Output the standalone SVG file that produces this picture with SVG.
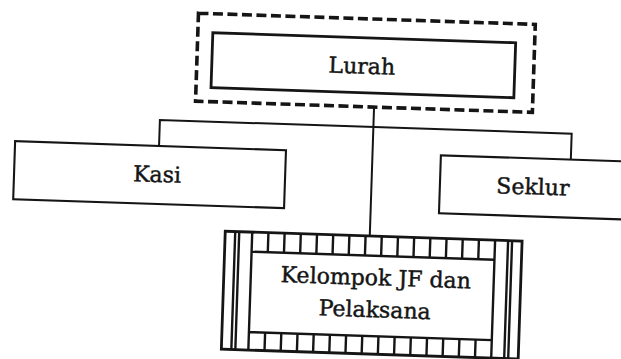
<svg xmlns="http://www.w3.org/2000/svg" width="621" height="359" viewBox="0 0 621 359">
<style>
.t{font-family:"DejaVu Serif","Liberation Serif",serif;font-size:22px;fill:#151515;stroke:#151515;stroke-width:0.45;text-anchor:middle}
.box{fill:#fff;stroke:#151515;stroke-width:2.1}
.thick{fill:#fff;stroke:#151515;stroke-width:2.8}
.dash{fill:none;stroke:#151515;stroke-width:3.6;stroke-dasharray:10 4.5}
.ln{fill:none;stroke:#151515;stroke-width:2}
.cell{fill:none;stroke:#151515;stroke-width:2.4}
</style>
<rect width="621" height="359" fill="#fff"/>
<g transform="rotate(1.9 310 180)">
<g id="connectors">
<line class="ln" x1="371.6" y1="105" x2="371.6" y2="234"/>
<polyline class="ln" points="158,151 158,125 570,125 570,151"/>
</g>
<g id="lurah">
<rect class="dash" x="193" y="17" width="337" height="88"/>
<rect class="thick" x="208" y="36" width="303" height="55"/>
<text class="t" x="358" y="72">Lurah</text>
</g>
<g id="kasi">
<rect class="box" x="14" y="151" width="271" height="58"/>
<text class="t" x="157" y="187">Kasi</text>
</g>
<g id="seklur">
<rect class="box" x="440" y="151" width="186" height="58"/>
<text class="t" x="533" y="187">Seklur</text>
</g>
<g id="kelompok">
<rect class="thick" x="227" y="234" width="297" height="118"/>
<path class="cell" d="M237,234V352M241,234V352M254,234V352M497,234V352M510,234V352M514,234V352M254,253.6H497M254,334H497"/>
<path class="cell" d="M270.2,234V253.6M286.4,234V253.6M302.6,234V253.6M318.8,234V253.6M335,234V253.6M351.2,234V253.6M367.4,234V253.6M383.6,234V253.6M399.8,234V253.6M416,234V253.6M432.2,234V253.6M448.4,234V253.6M464.6,234V253.6M480.8,234V253.6"/>
<path class="cell" d="M270.2,334V352M286.4,334V352M302.6,334V352M318.8,334V352M335,334V352M351.2,334V352M367.4,334V352M383.6,334V352M399.8,334V352M416,334V352M432.2,334V352M448.4,334V352M464.6,334V352M480.8,334V352"/>
<text class="t" x="379" y="283">Kelompok JF dan</text>
<text class="t" x="379" y="315">Pelaksana</text>
</g>
</g>
</svg>
